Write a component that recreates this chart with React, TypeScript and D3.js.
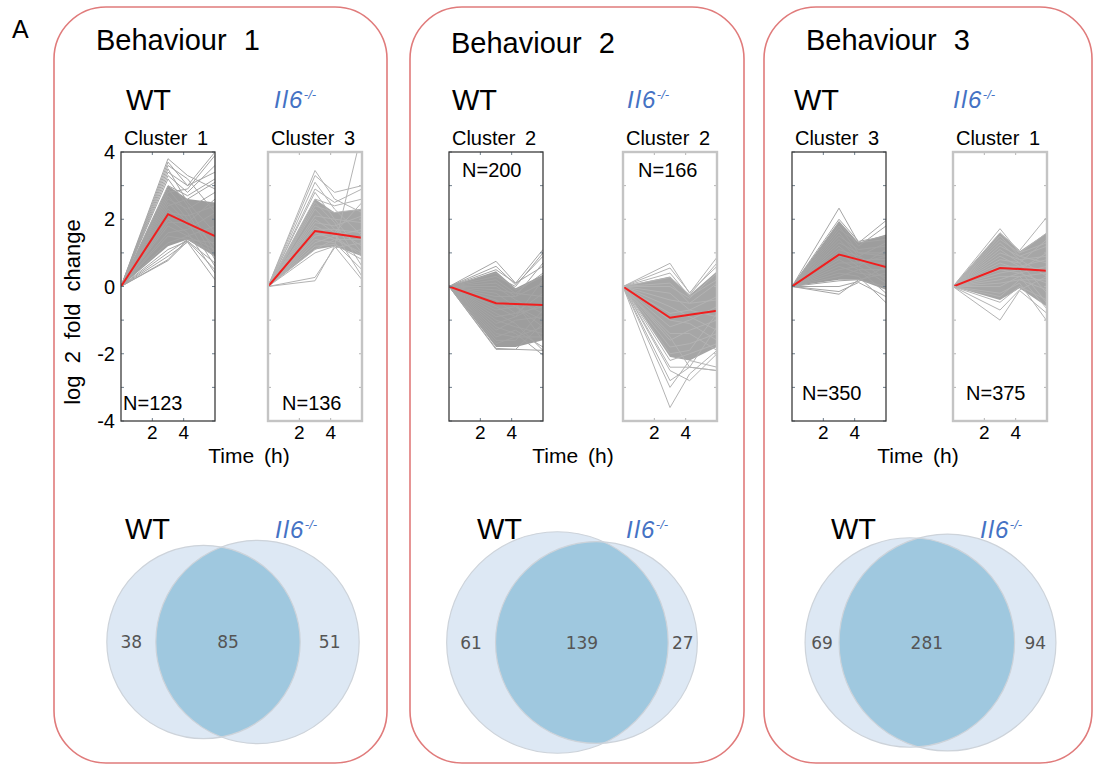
import React from "react";
import * as d3 from "d3";

// ---------- data ----------
const TIME_POINTS = [0, 3, 4.25, 6];
const Y_TICK_LABELS = [4, 2, 0, -2, -4];
const X_TICK_LABELS = [2, 4];

const BEHAVIOURS = ["Behaviour 1", "Behaviour 2", "Behaviour 3"];
const WT_CLUSTERS = ["Cluster 1", "Cluster 2", "Cluster 3"];
const KO_CLUSTERS = ["Cluster 3", "Cluster 2", "Cluster 1"];
const WT_N = [123, 200, 350];
const KO_N = [136, 166, 375];

const VENN_WT_ONLY = [38, 61, 69];
const VENN_SHARED = [85, 139, 281];
const VENN_KO_ONLY = [51, 27, 94];

// cluster mean profiles (log2 fold change at each time point)
const WT_MEANS = [
  [0, 2.15, 1.88, 1.5],
  [0, -0.5, -0.52, -0.55],
  [0, 0.95, 0.8, 0.58],
];
const KO_MEANS = [
  [0, 1.65, 1.57, 1.45],
  [0, -0.93, -0.84, -0.72],
  [0, 0.55, 0.52, 0.47],
];

// dense core of each cluster (lower / upper edge)
const WT_CORE_LOW = [
  [0, 1.2, 1.4, 0.9],
  [0, -1.8, -1.8, -1.6],
  [0, 0.2, 0.2, -0.1],
];
const WT_CORE_HIGH = [
  [0, 3.0, 2.6, 2.5],
  [0, 0.45, -0.05, 0.35],
  [0, 1.95, 1.3, 1.55],
];
const KO_CORE_LOW = [
  [0, 1.1, 1.2, 0.9],
  [0, -2.1, -2.2, -1.8],
  [0, -0.4, -0.05, -0.6],
];
const KO_CORE_HIGH = [
  [0, 2.6, 2.2, 2.3],
  [0, 0.3, -0.25, 0.45],
  [0, 1.6, 1.05, 1.6],
];

// individual gene profiles
const WT_B1_GENES = [
  [0, 3.8, 3.3, 2.9], [0, 3.7, 3.0, 3.4], [0, 3.6, 3.2, 2.2], [0, 3.5, 2.5, 1.6],
  [0, 3.4, 3.0, 4.0], [0, 3.3, 2.8, 3.6], [0, 3.2, 2.4, 1.0], [0, 3.0, 2.7, 3.2],
  [0, 2.9, 2.2, 0.8], [0, 2.8, 2.9, 3.9], [0, 2.7, 2.0, 1.2], [0, 2.6, 2.3, 2.8],
  [0, 2.5, 1.9, 0.6], [0, 2.4, 2.6, 3.1], [0, 2.3, 1.8, 1.5], [0, 2.2, 2.1, 2.4],
  [0, 2.0, 1.6, 0.4], [0, 1.9, 1.9, 2.6], [0, 1.8, 1.5, 1.1], [0, 1.6, 1.7, 2.2],
  [0, 1.5, 1.4, 0.9], [0, 1.3, 1.5, 1.8], [0, 1.1, 1.35, 0.5], [0, 1.0, 1.4, 1.3],
  [0, 0.9, 1.32, 0.2], [0, 0.8, 1.4, 1.0], [0, 0.77, 1.35, 0.7],
];
const KO_B1_GENES = [
  [0, 3.45, 2.6, 2.2], [0, 3.3, 2.8, 3.0], [0, 3.1, 2.3, 1.5], [0, 2.9, 2.5, 2.9],
  [0, 2.8, 2.0, 1.0], [0, 2.6, 2.4, 2.6], [0, 2.5, 1.9, 0.6], [0, 2.4, 2.2, 2.3],
  [0, 2.3, 1.7, 1.2], [0, 2.1, 2.0, 1.9], [0, 2.0, 1.6, 0.3], [0, 1.9, 1.8, 2.1],
  [0, 1.8, 1.5, 0.9], [0, 1.7, 1.7, 1.6], [0, 1.6, 1.4, 1.0], [0, 1.5, 1.6, 2.5],
  [0, 1.4, 1.3, 0.5], [0, 1.3, 1.5, 1.7], [0, 1.2, 1.25, 0.8], [0, 1.1, 1.4, 1.4],
  [0, 1.0, 1.2, 0.2], [0, 0.27, 1.15, 1.3], [0, 0.17, 1.2, 4.6],
];
const WT_B2_GENES = [
  [0, 0.75, 0.1, 1.1], [0, 0.6, 0.05, 0.9], [0, 0.5, 0.1, 0.6], [0, 0.4, -0.1, 0.3],
  [0, 0.3, 0.0, 1.0], [0, 0.2, -0.2, -0.3], [0, 0.1, -0.3, 0.7], [0, 0.0, -0.4, -0.8],
  [0, -0.1, -0.2, 0.4], [0, -0.2, -0.6, -1.2], [0, -0.3, -0.3, 0.1], [0, -0.4, -0.8, -0.6],
  [0, -0.5, -0.5, -1.6], [0, -0.6, -0.9, 0.2], [0, -0.7, -0.6, -1.0], [0, -0.8, -1.1, -1.9],
  [0, -0.9, -0.8, -0.2], [0, -1.0, -1.2, -1.4], [0, -1.1, -0.9, -0.5], [0, -1.2, -1.4, -2.04],
  [0, -1.3, -1.0, -0.9], [0, -1.4, -1.5, -1.2], [0, -1.5, -1.3, -1.8], [0, -1.6, -1.6, -0.7],
  [0, -1.7, -1.5, -1.5], [0, -1.84, -1.87, -1.9], [0, -1.87, -1.87, -1.1],
];
const KO_B2_GENES = [
  [0, 0.69, -0.2, 0.87], [0, 0.55, -0.18, 0.6], [0, 0.4, -0.3, 0.2], [0, 0.27, -0.25, 0.7],
  [0, 0.1, -0.5, -0.4], [0, 0.0, -0.35, 0.4], [0, -0.2, -0.7, -0.9], [0, -0.4, -0.5, 0.1],
  [0, -0.6, -0.9, -1.3], [0, -0.8, -0.7, -0.3], [0, -1.0, -1.1, -1.6], [0, -1.2, -1.0, -0.6],
  [0, -1.4, -1.4, -1.9], [0, -1.6, -1.3, -1.0], [0, -1.8, -1.7, -1.4], [0, -2.0, -1.9, -0.8],
  [0, -2.2, -2.0, -1.7], [0, -2.4, -2.4, -2.5], [0, -2.8, -2.4, -1.2], [0, -3.0, -2.2, -2.4],
  [0, -3.6, -2.6, -1.9], [0, -2.5, -2.8, -2.0], [0, -1.5, -2.4, -2.5],
];
const WT_B3_GENES = [
  [0, 2.33, 1.3, 1.96], [0, 2.0, 1.34, 1.5], [0, 1.9, 1.2, 1.8], [0, 1.8, 1.0, 0.9],
  [0, 1.7, 1.3, 1.4], [0, 1.6, 0.9, 0.5], [0, 1.5, 1.1, 1.2], [0, 1.4, 0.8, 0.2],
  [0, 1.3, 1.0, 1.0], [0, 1.2, 0.7, 0.7], [0, 1.1, 0.9, 1.3], [0, 1.0, 0.6, 0.1],
  [0, 0.9, 0.8, 0.8], [0, 0.8, 0.5, -0.2], [0, 0.7, 0.7, 0.9], [0, 0.6, 0.4, 0.3],
  [0, 0.5, 0.6, 1.1], [0, 0.4, 0.3, -0.48], [0, 0.3, 0.5, 0.5], [0, 0.17, 0.2, 0.0],
  [0, 0.0, 0.15, 0.6], [0, -0.15, 0.12, -0.3], [0, -0.23, 0.2, 0.4],
];
const KO_B3_GENES = [
  [0, 1.72, 1.0, 1.3], [0, 1.6, 1.07, 2.07], [0, 1.5, 0.9, 0.7], [0, 1.4, 1.0, 1.6],
  [0, 1.3, 0.8, 0.3], [0, 1.2, 0.9, 1.2], [0, 1.1, 0.7, -0.2], [0, 1.0, 0.8, 0.9],
  [0, 0.9, 0.6, 0.5], [0, 0.8, 0.7, 1.4], [0, 0.7, 0.5, -0.5], [0, 0.6, 0.6, 0.8],
  [0, 0.5, 0.4, 0.1], [0, 0.4, 0.5, 1.0], [0, 0.3, 0.3, -0.67], [0, 0.2, 0.4, 0.6],
  [0, 0.1, 0.2, -0.1], [0, 0.0, 0.3, 0.4], [0, -0.2, 0.1, -1.03], [0, -0.3, 0.2, 0.2],
  [0, -0.47, 0.0, -0.4], [0, -0.7, -0.1, 0.3], [0, -1.0, -0.12, -0.8],
];

const WT_GENES = [WT_B1_GENES, WT_B2_GENES, WT_B3_GENES];
const KO_GENES = [KO_B1_GENES, KO_B2_GENES, KO_B3_GENES];

// ---------- layout ----------
const W = 1093;
const H = 765;
const FONT = "'Liberation Sans', Arial, Helvetica, sans-serif";
const KO_BLUE = "#4472C4";

const BOX_X = [54, 410, 764];
const BOX_W = [333, 334, 328];
const BOX_TOP = 7;
const BOX_BOTTOM = 763;

const TITLE_X = [96, 451, 806];
const TITLE_Y = [50, 53, 50];
const WT_LABEL_X = [126, 452, 794];
const KO_LABEL_X = [274, 627, 953];

const PLOT_WT_X = [121, 449, 792];
const PLOT_KO_X = [268, 623, 953];
const PLOT_W = 94;
const PLOT_TOP = 152;
const PLOT_BOTTOM = 421;

const N_WT_POS = [[123, 410], [462, 177], [802, 400]];
const N_KO_POS = [[282, 410], [638, 177], [966, 400]];
const TIME_LABEL_X = [249, 573, 918];

const VENN_CX = [233, 572, 930.5];
const VENN_CY = [642, 642.5, 642.5];
const VENN_SCALE = [115, 118, 118];
const VENN_WT_X = [125, 477, 831];
const VENN_KO_X = [275, 626, 980];

const yScale = d3.scaleLinear().domain([-4, 4]).range([PLOT_BOTTOM, PLOT_TOP]);

function lensArea(r1: number, r2: number, d: number) {
  if (d >= r1 + r2) return 0;
  if (d <= Math.abs(r1 - r2)) return Math.PI * Math.min(r1, r2) ** 2;
  const a1 = Math.acos((d * d + r1 * r1 - r2 * r2) / (2 * d * r1));
  const a2 = Math.acos((d * d + r2 * r2 - r1 * r1) / (2 * d * r2));
  const k = Math.sqrt((-d + r1 + r2) * (d + r1 - r2) * (d - r1 + r2) * (d + r1 + r2));
  return r1 * r1 * a1 + r2 * r2 * a2 - 0.5 * k;
}

function solveDistance(r1: number, r2: number, target: number) {
  let lo = Math.abs(r1 - r2);
  let hi = r1 + r2;
  for (let i = 0; i < 80; i++) {
    const mid = (lo + hi) / 2;
    if (lensArea(r1, r2, mid) > target) lo = mid;
    else hi = mid;
  }
  return (lo + hi) / 2;
}

function KoLabel({ x, y, size, sup }: { x: number; y: number; size: number; sup: number }) {
  return (
    <text x={x} y={y} fontFamily={FONT} fontStyle="italic" fontSize={size} fill={KO_BLUE} letterSpacing={1.5}>
      Il6
      <tspan dy={-size * 0.38} fontSize={sup} letterSpacing={0}>-/-</tspan>
    </text>
  );
}

function ProfilePlot({
  id, x0, genes, low, high, mean, title, ko,
}: {
  id: string; x0: number; genes: number[][]; low: number[]; high: number[]; mean: number[]; title: string; ko: boolean;
}) {
  const xScale = d3.scaleLinear().domain([0, 6]).range([x0, x0 + PLOT_W]);
  const line = d3.line<number>().x((_, j) => xScale(TIME_POINTS[j])).y((v) => yScale(v));
  const area = d3
    .area<number>()
    .x((_, j) => xScale(TIME_POINTS[j]))
    .y0((_, j) => yScale(low[j]))
    .y1((_, j) => yScale(high[j]));
  const frame = ko ? "#c4c4c4" : "#3c3c3c";
  const tickColor = ko ? "#b4b4b4" : "#6f7f8c";
  const yTicks = yScale.ticks(8);
  const x1 = x0 + PLOT_W;
  return (
    <g>
      <defs>
        <clipPath id={id}>
          <rect x={x0} y={PLOT_TOP} width={PLOT_W} height={PLOT_BOTTOM - PLOT_TOP} />
        </clipPath>
      </defs>
      <text x={x0 + PLOT_W / 2 - 2} y={145} textAnchor="middle" fontFamily={FONT} fontSize={20} wordSpacing={4}>
        {title}
      </text>
      <g clipPath={`url(#${id})`}>
        <path d={area(low) || ""} fill={ko ? "#a6a6a6" : "#9d9d9d"} />
        {genes.map((g, i) => (
          <path key={i} d={line(g) || ""} fill="none" stroke={ko ? "#b3b3b3" : "#a5a5a5"} strokeWidth={1} />
        ))}
        <path d={line(mean) || ""} fill="none" stroke="#f01e1e" strokeWidth={2} />
      </g>
      {yTicks.map((t) => (
        <g key={t}>
          <line x1={x0} x2={x0 + 3} y1={yScale(t)} y2={yScale(t)} stroke={tickColor} strokeWidth={1} />
          <line x1={x1 - 3} x2={x1} y1={yScale(t)} y2={yScale(t)} stroke={tickColor} strokeWidth={1} />
        </g>
      ))}
      {X_TICK_LABELS.map((t) => (
        <g key={t}>
          <line x1={xScale(t)} x2={xScale(t)} y1={PLOT_BOTTOM} y2={PLOT_BOTTOM - 3} stroke={tickColor} />
          <line x1={xScale(t)} x2={xScale(t)} y1={PLOT_TOP} y2={PLOT_TOP + 3} stroke={tickColor} />
          <text x={xScale(t)} y={439} textAnchor="middle" fontFamily={FONT} fontSize={19}>
            {t}
          </text>
        </g>
      ))}
      <rect
        x={x0}
        y={PLOT_TOP}
        width={PLOT_W}
        height={PLOT_BOTTOM - PLOT_TOP}
        fill="none"
        stroke={frame}
        strokeWidth={ko ? 2.4 : 1.3}
      />
    </g>
  );
}

function Venn({ i }: { i: number }) {
  const a = VENN_WT_ONLY[i];
  const s = VENN_SHARED[i];
  const b = VENN_KO_ONLY[i];
  const union = a + s + b;
  const k = VENN_SCALE[i] / Math.sqrt(union);
  const r1 = k * Math.sqrt(a + s);
  const r2 = k * Math.sqrt(b + s);
  const d = solveDistance(r1, r2, k * k * Math.PI * s);
  const cy = VENN_CY[i];
  const c1 = VENN_CX[i] - (d + r2 - r1) / 2;
  const c2 = c1 + d;
  const ax = (d * d + r1 * r1 - r2 * r2) / (2 * d);
  const h = Math.sqrt(Math.max(0, r1 * r1 - ax * ax));
  const px = c1 + ax;
  const large2 = c2 < px ? 1 : 0;
  const large1 = c1 > px ? 1 : 0;
  const lens = `M${px},${cy - h} A${r2},${r2} 0 ${large2} 0 ${px},${cy + h} A${r1},${r1} 0 ${large1} 0 ${px},${cy - h} Z`;
  const labelStyle = { fontFamily: "'DejaVu Sans', sans-serif", fontSize: 17, fill: "#555" };
  const xA = (c1 - r1 + (c2 - r2)) / 2;
  const xS = (c2 - r2 + (c1 + r1)) / 2;
  const xB = (c1 + r1 + (c2 + r2)) / 2;
  return (
    <g>
      <circle cx={c1} cy={cy} r={r1} fill="#dde8f4" />
      <circle cx={c2} cy={cy} r={r2} fill="#dde8f4" />
      <path d={lens} fill="#9fc8df" />
      <circle cx={c1} cy={cy} r={r1} fill="none" stroke="#cdd3da" strokeWidth={1.2} />
      <circle cx={c2} cy={cy} r={r2} fill="none" stroke="#cdd3da" strokeWidth={1.2} />
      <text x={xA} y={cy} textAnchor="middle" dominantBaseline="central" style={labelStyle}>{a}</text>
      <text x={xS} y={cy} textAnchor="middle" dominantBaseline="central" style={labelStyle}>{s}</text>
      <text x={xB} y={cy} textAnchor="middle" dominantBaseline="central" style={labelStyle}>{b}</text>
      <text x={VENN_WT_X[i]} y={539} fontFamily={FONT} fontSize={29}>WT</text>
      <KoLabel x={VENN_KO_X[i]} y={538} size={24} sup={13} />
    </g>
  );
}

export default function App() {
  return (
    <svg
      width={W}
      height={H}
      viewBox={`0 0 ${W} ${H}`}
      style={{ position: "absolute", left: 0, top: 0, background: "#fff", display: "block" }}
    >
      <rect width={W} height={H} fill="#fff" />
      <text x={12} y={38} fontFamily={FONT} fontSize={25}>A</text>
      {BEHAVIOURS.map((name, i) => (
        <g key={name}>
          <rect
            x={BOX_X[i]}
            y={BOX_TOP}
            width={BOX_W[i]}
            height={BOX_BOTTOM - BOX_TOP}
            rx={52}
            ry={52}
            fill="none"
            stroke="#e07b7b"
            strokeWidth={1.6}
          />
          <text x={TITLE_X[i]} y={TITLE_Y[i]} fontFamily={FONT} fontSize={29} wordSpacing={9}>
            {name}
          </text>
          <text x={WT_LABEL_X[i]} y={110} fontFamily={FONT} fontSize={29}>WT</text>
          <KoLabel x={KO_LABEL_X[i]} y={108} size={24} sup={13} />
          <ProfilePlot
            id={`wt-clip-${i}`}
            x0={PLOT_WT_X[i]}
            genes={WT_GENES[i]}
            low={WT_CORE_LOW[i]}
            high={WT_CORE_HIGH[i]}
            mean={WT_MEANS[i]}
            title={WT_CLUSTERS[i]}
            ko={false}
          />
          <ProfilePlot
            id={`ko-clip-${i}`}
            x0={PLOT_KO_X[i]}
            genes={KO_GENES[i]}
            low={KO_CORE_LOW[i]}
            high={KO_CORE_HIGH[i]}
            mean={KO_MEANS[i]}
            title={KO_CLUSTERS[i]}
            ko={true}
          />
          <text x={N_WT_POS[i][0]} y={N_WT_POS[i][1]} fontFamily={FONT} fontSize={20}>
            N={WT_N[i]}
          </text>
          <text x={N_KO_POS[i][0]} y={N_KO_POS[i][1]} fontFamily={FONT} fontSize={20}>
            N={KO_N[i]}
          </text>
          <text x={TIME_LABEL_X[i]} y={463} textAnchor="middle" fontFamily={FONT} fontSize={21} wordSpacing={4}>
            Time (h)
          </text>
          <Venn i={i} />
        </g>
      ))}
      {Y_TICK_LABELS.map((t) => (
        <text
          key={t}
          x={115}
          y={yScale(t)}
          textAnchor="end"
          dominantBaseline="central"
          fontFamily={FONT}
          fontSize={20}
        >
          {t}
        </text>
      ))}
      <text
        transform={`translate(80, 312) rotate(-90)`}
        textAnchor="middle"
        fontFamily={FONT}
        fontSize={22}
        wordSpacing={6}
      >
        log 2 fold change
      </text>
    </svg>
  );
}
